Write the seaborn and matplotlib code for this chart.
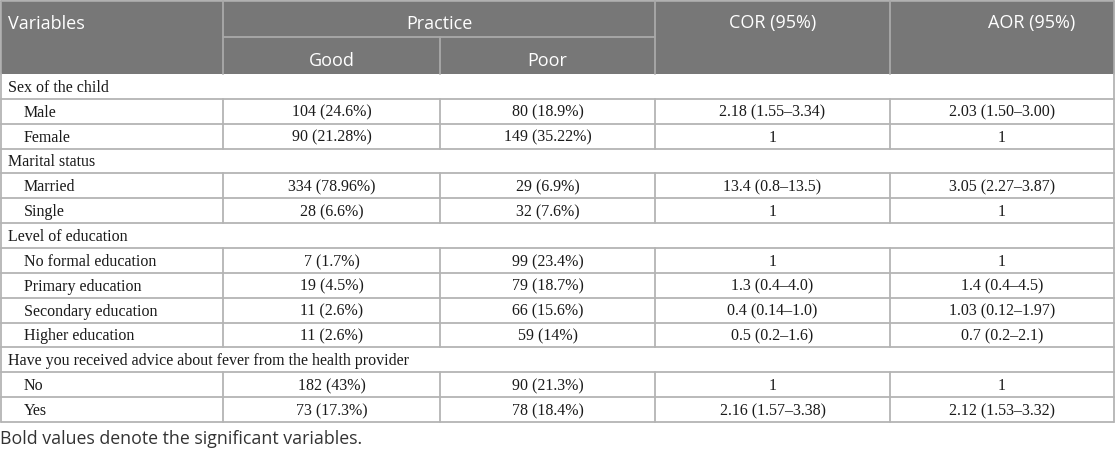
import numpy as np
import pandas as pd
import seaborn as sns
import matplotlib.pyplot as plt

groups = ["Sex of the child", "Marital status", "Level of education",
          "Have you received advice about fever from the health provider"]
levels = [["Male", "Female"],
          ["Married", "Single"],
          ["No formal education", "Primary education", "Secondary education", "Higher education"],
          ["No", "Yes"]]
good = ["104 (24.6%)", "90 (21.28%)", "334 (78.96%)", "28 (6.6%)", "7 (1.7%)",
        "19 (4.5%)", "11 (2.6%)", "11 (2.6%)", "182 (43%)", "73 (17.3%)"]
poor = ["80 (18.9%)", "149 (35.22%)", "29 (6.9%)", "32 (7.6%)", "99 (23.4%)",
        "79 (18.7%)", "66 (15.6%)", "59 (14%)", "90 (21.3%)", "78 (18.4%)"]
cor = ["2.18 (1.55\u20133.34)", "1", "13.4 (0.8\u201313.5)", "1", "1",
       "1.3 (0.4\u20134.0)", "0.4 (0.14\u20131.0)", "0.5 (0.2\u20131.6)", "1", "2.16 (1.57\u20133.38)"]
aor = ["2.03 (1.50\u20133.00)", "1", "3.05 (2.27\u20133.87)", "1", "1",
       "1.4 (0.4\u20134.5)", "1.03 (0.12\u20131.97)", "0.7 (0.2\u20132.1)", "1", "2.12 (1.53\u20133.32)"]
footnote = "Bold values denote the significant variables."

# flatten into one row list
rows = []
k = 0
for g, lv in zip(groups, levels):
    rows.append({"kind": "group", "label": g, "vals": None})
    for name in lv:
        rows.append({"kind": "item", "label": name, "vals": [good[k], poor[k], cor[k], aor[k]]})
        k += 1
df = pd.DataFrame(rows)

sns.set_theme(style="white")
plt.rcParams["font.family"] = ["Liberation Serif", "DejaVu Serif"]

fig = plt.figure(figsize=(11.16, 4.51), dpi=100)
ax = fig.add_axes([0, 0, 1, 1])
ax.set_xlim(0, 1116)
ax.set_ylim(451, 0)
ax.axis("off")

cols = [1, 223, 440, 655, 890, 1114]
head_top, head_mid, head_bot = 1, 37, 74
row_h = (422 - 74) / len(df)
hdr_col = "#777777"
hdr_line = "#a9a9a9"
grid = "#b4b4b4"
sans = ["Open Sans", "DejaVu Sans"]
body_fs = 11.5

# header
ax.add_patch(plt.Rectangle((cols[0], head_top), cols[-1] - cols[0], head_bot - head_top,
                           facecolor=hdr_col, edgecolor="none"))
for x in [cols[1], cols[3], cols[4]]:
    ax.plot([x, x], [head_top, head_bot], color=hdr_line, lw=1.3)
ax.plot([cols[2], cols[2]], [head_mid, head_bot], color=hdr_line, lw=1.3)
ax.plot([cols[1], cols[3]], [head_mid, head_mid], color=hdr_line, lw=1.3)
ax.plot([cols[0], cols[-1]], [head_top, head_top], color=hdr_line, lw=1.3)
ax.plot([cols[0], cols[0]], [head_top, head_bot], color=hdr_line, lw=1.3)
ax.plot([cols[-1], cols[-1]], [head_top, head_bot], color=hdr_line, lw=1.3)

hkw = dict(color="white", fontsize=13, family=sans, va="center")
ax.text(8, 24, "Variables", ha="left", **hkw)
ax.text((cols[1] + cols[3]) / 2, 24, "Practice", ha="center", **hkw)
ax.text((cols[1] + cols[2]) / 2, 61, "Good", ha="center", **hkw)
ax.text((cols[2] + cols[3]) / 2, 61, "Poor", ha="center", **hkw)
ax.text((cols[3] + cols[4]) / 2, 23, "COR (95%)", ha="center", **hkw)
ax.text((cols[4] + cols[5]) / 2 + 30, 23, "AOR (95%)", ha="center", **hkw)

# body, text sits on a fixed baseline so rows don't jitter
centers = [(cols[i] + cols[i + 1]) / 2 for i in range(1, 5)]
tkw = dict(va="baseline", fontsize=body_fs, color="#1a1a1a")
for i, r in df.iterrows():
    y0 = head_bot + i * row_h
    y1 = y0 + row_h
    yb = (y0 + y1) / 2 + 5.5
    ax.plot([cols[0], cols[-1]], [y1, y1], color=grid, lw=1.3)
    ax.plot([cols[0], cols[0]], [y0, y1], color=grid, lw=1.3)
    ax.plot([cols[-1], cols[-1]], [y0, y1], color=grid, lw=1.3)
    if r["kind"] == "group":
        ax.text(8, yb, r["label"], ha="left", **tkw)
    else:
        for x in cols[1:5]:
            ax.plot([x, x], [y0, y1], color=grid, lw=1.3)
        ax.text(24, yb, r["label"], ha="left", **tkw)
        for xc, v in zip(centers, r["vals"]):
            ax.text(xc, yb, v, ha="center", **tkw)

ax.text(0, 439, footnote, ha="left", va="center", fontsize=12.8, family=sans, color="#333333")

fig.savefig("out.png", dpi=100)
